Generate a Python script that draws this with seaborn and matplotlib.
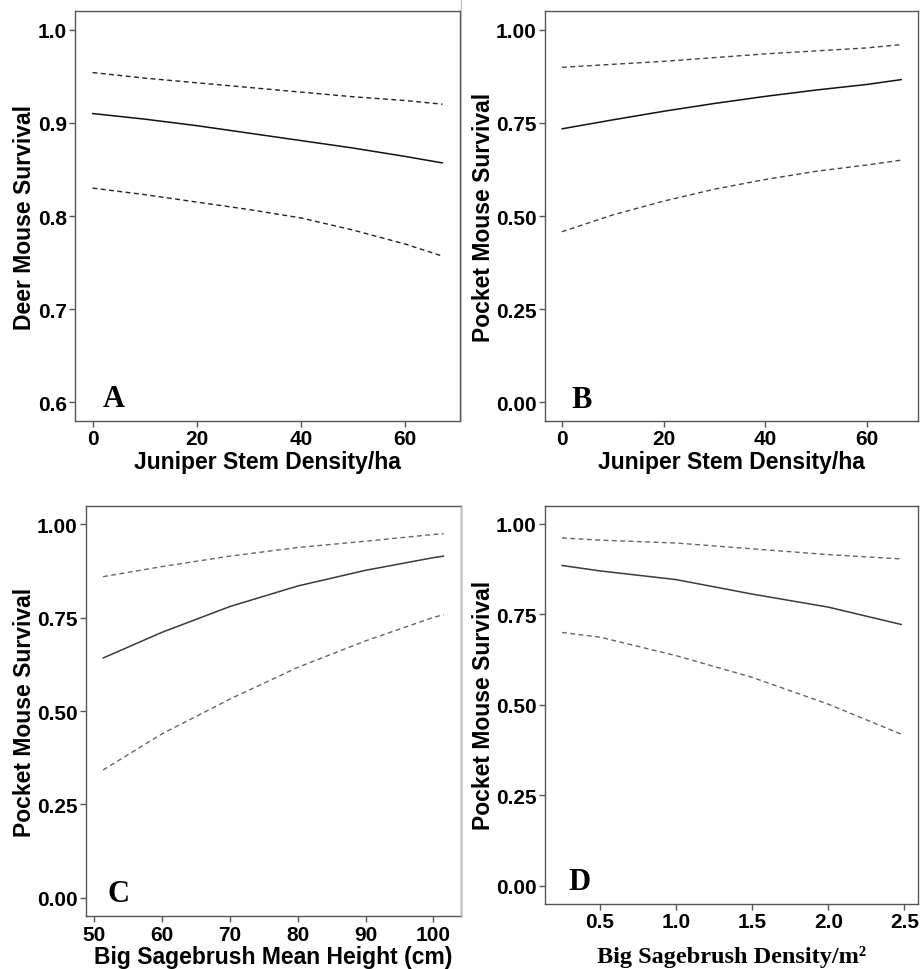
import matplotlib
matplotlib.use("Agg")
import matplotlib.pyplot as plt
from matplotlib.lines import Line2D
import seaborn as sns
import pandas as pd

# ---- data ----
a_x = [0, 10, 20, 30, 40, 50, 60, 67.2]
a_fit = [0.910, 0.904, 0.897, 0.889, 0.881, 0.873, 0.864, 0.857]
a_upper = [0.954, 0.948, 0.943, 0.938, 0.933, 0.928, 0.924, 0.920]
a_lower = [0.830, 0.823, 0.815, 0.807, 0.798, 0.785, 0.770, 0.757]

b_x = [0, 10, 20, 30, 40, 50, 60, 66.8]
b_fit = [0.734, 0.758, 0.781, 0.802, 0.821, 0.838, 0.853, 0.866]
b_upper = [0.899, 0.907, 0.915, 0.925, 0.935, 0.943, 0.951, 0.960]
b_lower = [0.458, 0.503, 0.540, 0.572, 0.598, 0.620, 0.637, 0.650]

c_x = [51.3, 60, 70, 80, 90, 100, 101.5]
c_fit = [0.642, 0.711, 0.780, 0.835, 0.877, 0.911, 0.915]
c_upper = [0.860, 0.887, 0.915, 0.938, 0.955, 0.973, 0.975]
c_lower = [0.342, 0.439, 0.532, 0.617, 0.688, 0.751, 0.758]

d_x = [0.25, 0.5, 1.0, 1.5, 2.0, 2.48]
d_fit = [0.885, 0.870, 0.846, 0.806, 0.770, 0.722]
d_upper = [0.961, 0.955, 0.947, 0.931, 0.915, 0.903]
d_lower = [0.700, 0.687, 0.636, 0.576, 0.502, 0.419]

panel_letters = ["A", "B", "C", "D"]
y_labels = ["Deer Mouse Survival", "Pocket Mouse Survival",
            "Pocket Mouse Survival", "Pocket Mouse Survival"]
x_labels = ["Juniper Stem Density/ha", "Juniper Stem Density/ha",
            "Big Sagebrush Mean Height (cm)", "Big Sagebrush Density/m\u00b2"]
a_yticks = [0.6, 0.7, 0.8, 0.9, 1.0]
a_yticklabels = ["0.6", "0.7", "0.8", "0.9", "1.0"]
pm_yticks = [0.0, 0.25, 0.5, 0.75, 1.0]
pm_yticklabels = ["0.00", "0.25", "0.50", "0.75", "1.00"]
ab_xticks = [0, 20, 40, 60]
c_xticks = [50, 60, 70, 80, 90, 100]
d_xticks = [0.5, 1.0, 1.5, 2.0, 2.5]
d_xticklabels = ["0.5", "1.0", "1.5", "2.0", "2.5"]

sns.set_theme(style="white")
plt.rcParams['font.family'] = ['Liberation Sans', 'DejaVu Sans']
plt.rcParams['text.color'] = 'black'
plt.rcParams['axes.labelcolor'] = 'black'
plt.rcParams['xtick.color'] = 'black'
plt.rcParams['ytick.color'] = 'black'

fig = plt.figure(figsize=(9.24, 9.70), dpi=100)

positions = [
    [0.0812, 0.5649, 0.4978 - 0.0812, 0.9876 - 0.5649],
    [0.5898, 0.5649, 0.9938 - 0.5898, 0.9876 - 0.5649],
    [0.0931, 0.0543, 0.4986 - 0.0931, 0.4776 - 0.0543],
    [0.5898, 0.0670, 0.9938 - 0.5898, 0.4776 - 0.0670],
]

panels = [
    (a_x, a_fit, a_upper, a_lower),
    (b_x, b_fit, b_upper, b_lower),
    (c_x, c_fit, c_upper, c_lower),
    (d_x, d_fit, d_upper, d_lower),
]
solid_colors = ["#111111", "#111111", "#3a3a3a", "#3a3a3a"]
dash_colors = ["#222222", "#444444", "#666666", "#666666"]
letter_pos = [(0.073, 0.037), (0.0715, 0.034), (0.056, 0.038), (0.062, 0.038)]

for i, (xs, fit, up, lo) in enumerate(panels):
    ax = fig.add_axes(positions[i])
    df = pd.DataFrame({"x": xs, "fit": fit, "upper": up, "lower": lo})
    sns.lineplot(data=df, x="x", y="fit", ax=ax, color=solid_colors[i], lw=1.1)
    sns.lineplot(data=df, x="x", y="upper", ax=ax, color=dash_colors[i], lw=1.0,
                 linestyle=(0, (3.5, 2.5)))
    sns.lineplot(data=df, x="x", y="lower", ax=ax, color=dash_colors[i], lw=1.0,
                 linestyle=(0, (3.5, 2.5)))

    rng = xs[-1] - xs[0]
    ax.set_xlim(xs[0] - 0.05 * rng, xs[-1] + 0.05 * rng)
    if i == 0:
        ax.set_ylim(0.58, 1.02)
        ax.set_yticks(a_yticks)
        ax.set_yticklabels(a_yticklabels)
    else:
        ax.set_ylim(-0.05, 1.05)
        ax.set_yticks(pm_yticks)
        ax.set_yticklabels(pm_yticklabels)
    if i < 2:
        ax.set_xticks(ab_xticks)
    elif i == 2:
        ax.set_xticks(c_xticks)
    else:
        ax.set_xticks(d_xticks)
        ax.set_xticklabels(d_xticklabels)

    for s in ax.spines.values():
        s.set_color("#555555")
        s.set_linewidth(1.0)
    ax.tick_params(axis="both", which="major", length=4.5, width=1.0,
                   color="#555555", direction="out", bottom=True, left=True,
                   labelsize=15, pad=1.5, labelcolor="black")
    for lab in ax.get_xticklabels() + ax.get_yticklabels():
        lab.set_fontweight("bold")

    ax.set_ylabel(y_labels[i], fontsize=16.5, fontweight="bold", labelpad=1,
                  color="black")
    if i == 3:
        ax.set_xlabel(x_labels[i], fontsize=17.5, fontweight="bold",
                      family=["Liberation Serif", "DejaVu Serif"], labelpad=10,
                      color="black")
    else:
        ax.set_xlabel(x_labels[i], fontsize=16.5, fontweight="bold", labelpad=1,
                      color="black")

    ax.text(letter_pos[i][0], letter_pos[i][1], panel_letters[i],
            transform=ax.transAxes, fontsize=22, fontweight="bold",
            family=["Liberation Serif", "DejaVu Serif"],
            ha="left", va="baseline", color="black")

# thin separator lines visible at the left of right-hand panels
fig.add_artist(Line2D([461 / 924, 461 / 924], [1 - 0 / 970, 1 - 422 / 970],
                      color="#bbbbbb", lw=0.8))
fig.add_artist(Line2D([461 / 924, 461 / 924], [1 - 507 / 970, 1 - 917 / 970],
                      color="#bbbbbb", lw=0.8))

fig.savefig("out.png", dpi=100)
